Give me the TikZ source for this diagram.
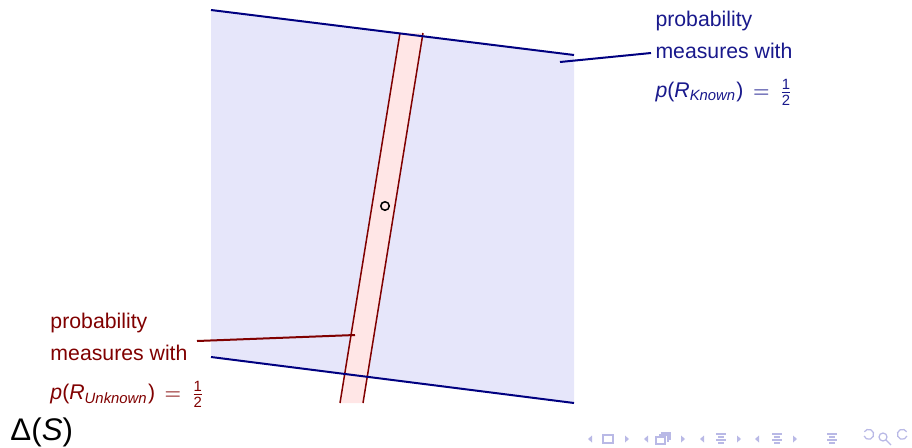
\documentclass[tikz,border=0pt]{standalone}
\usepackage{amsmath}
\usepackage{fontspec}
\setmainfont{Liberation Sans}
\usetikzlibrary{positioning}

\definecolor{regionfill}{RGB}{230,230,250}
\definecolor{regionline}{RGB}{0,0,128}
\definecolor{regiontext}{RGB}{25,25,140}
\definecolor{bandfill}{RGB}{255,230,230}
\definecolor{bandline}{RGB}{128,0,0}
\definecolor{navcol}{RGB}{185,185,230}

\begin{document}
\begin{tikzpicture}[x=0.4pt,y=-0.4pt,
    border/.style={draw=regionline, line width=0.8pt},
    bandedge/.style={draw=bandline, line width=0.6pt},
    lbl/.style={font=\fontsize{8.5}{12.8}\selectfont, align=left,
      inner sep=0pt, anchor=north west},
    navsym/.style={draw=navcol, line width=0.5pt}
  ]
    \useasboundingbox (0,0) rectangle (912,447);
    % the simplex region and the two lines
    \fill[regionfill] (211,10) -- (574,55) -- (574,403) -- (211,357) -- cycle;
    \fill[bandfill] (400,33) -- (423,33) -- (363,403) -- (340,403) -- cycle;
    \draw[bandedge] (400,33) -- (340,403);
    \draw[bandedge] (423,33) -- (363,403);
    \draw[border] (211,10) -- (574,55);
    \draw[border] (211,357) -- (574,403);
    \node[circle, draw, line width=0.6pt, inner sep=0pt, minimum size=3.4pt] (pt) at (385,206) {};

    % labels
    \node[lbl, text=regiontext] (knownLbl) at (655,10.5)
      {probability\\measures with\\[2.8pt]\textit{p}(\textit{R}\textsubscript{\textit{Known}})\,\ $=$\ \,$\frac{\text{1}}{\text{2}}$};
    \node[lbl, text=bandline] (unknownLbl) at (50,312.5)
      {probability\\measures with\\[2.8pt]\textit{p}(\textit{R}\textsubscript{\textit{Unknown}})\,\ $=$\ \,$\frac{\text{1}}{\text{2}}$};
    \coordinate (knownTip) at (560,62);
    \coordinate (unknownTip) at (355,335);
    \draw[regionline, line width=0.8pt] (knownTip) -- ([shift={(-1.6pt,-17pt)}]knownLbl.north west);
    \draw[bandline, line width=0.8pt] (unknownTip) -- ([shift={(58.8pt,-11.4pt)}]unknownLbl.north west);

    \node[anchor=base west, inner sep=0pt, font=\fontsize{12.5}{14}\selectfont] (deltaS) at (10,440) {Δ(\textit{S})};

    % navigation symbols
    \foreach \x in {590,646,702,757}
      \fill[navcol] (\x+2,435.5) -- (\x-2,439) -- (\x+2,442.5) -- cycle;
    \foreach \x in {627,683,739,795}
      \fill[navcol] (\x-2,435.5) -- (\x+2,439) -- (\x-2,442.5) -- cycle;
    \draw[navsym] (603,435) rectangle (613,443);
    \draw[navsym] (656,437) rectangle (665,444) (659,435) -- (668,435) -- (668,442)
      (661,433) -- (670,433) -- (670,440);
    \foreach \x in {721,777,832}
      \draw[navsym] (\x-5,434) -- (\x+5,434) (\x-3,437) -- (\x+3,437)
        (\x-5,440) -- (\x+5,440) (\x-3,443) -- (\x+3,443);
    \draw[navsym] (864,436) arc[start angle=160, end angle=-150, radius=5];
    \draw[navsym] (883,437) circle[radius=4] (886,440) -- (891,445);
    \draw[navsym] (907,436) arc[start angle=20, end angle=330, radius=5];
  \end{tikzpicture}
\end{document}
